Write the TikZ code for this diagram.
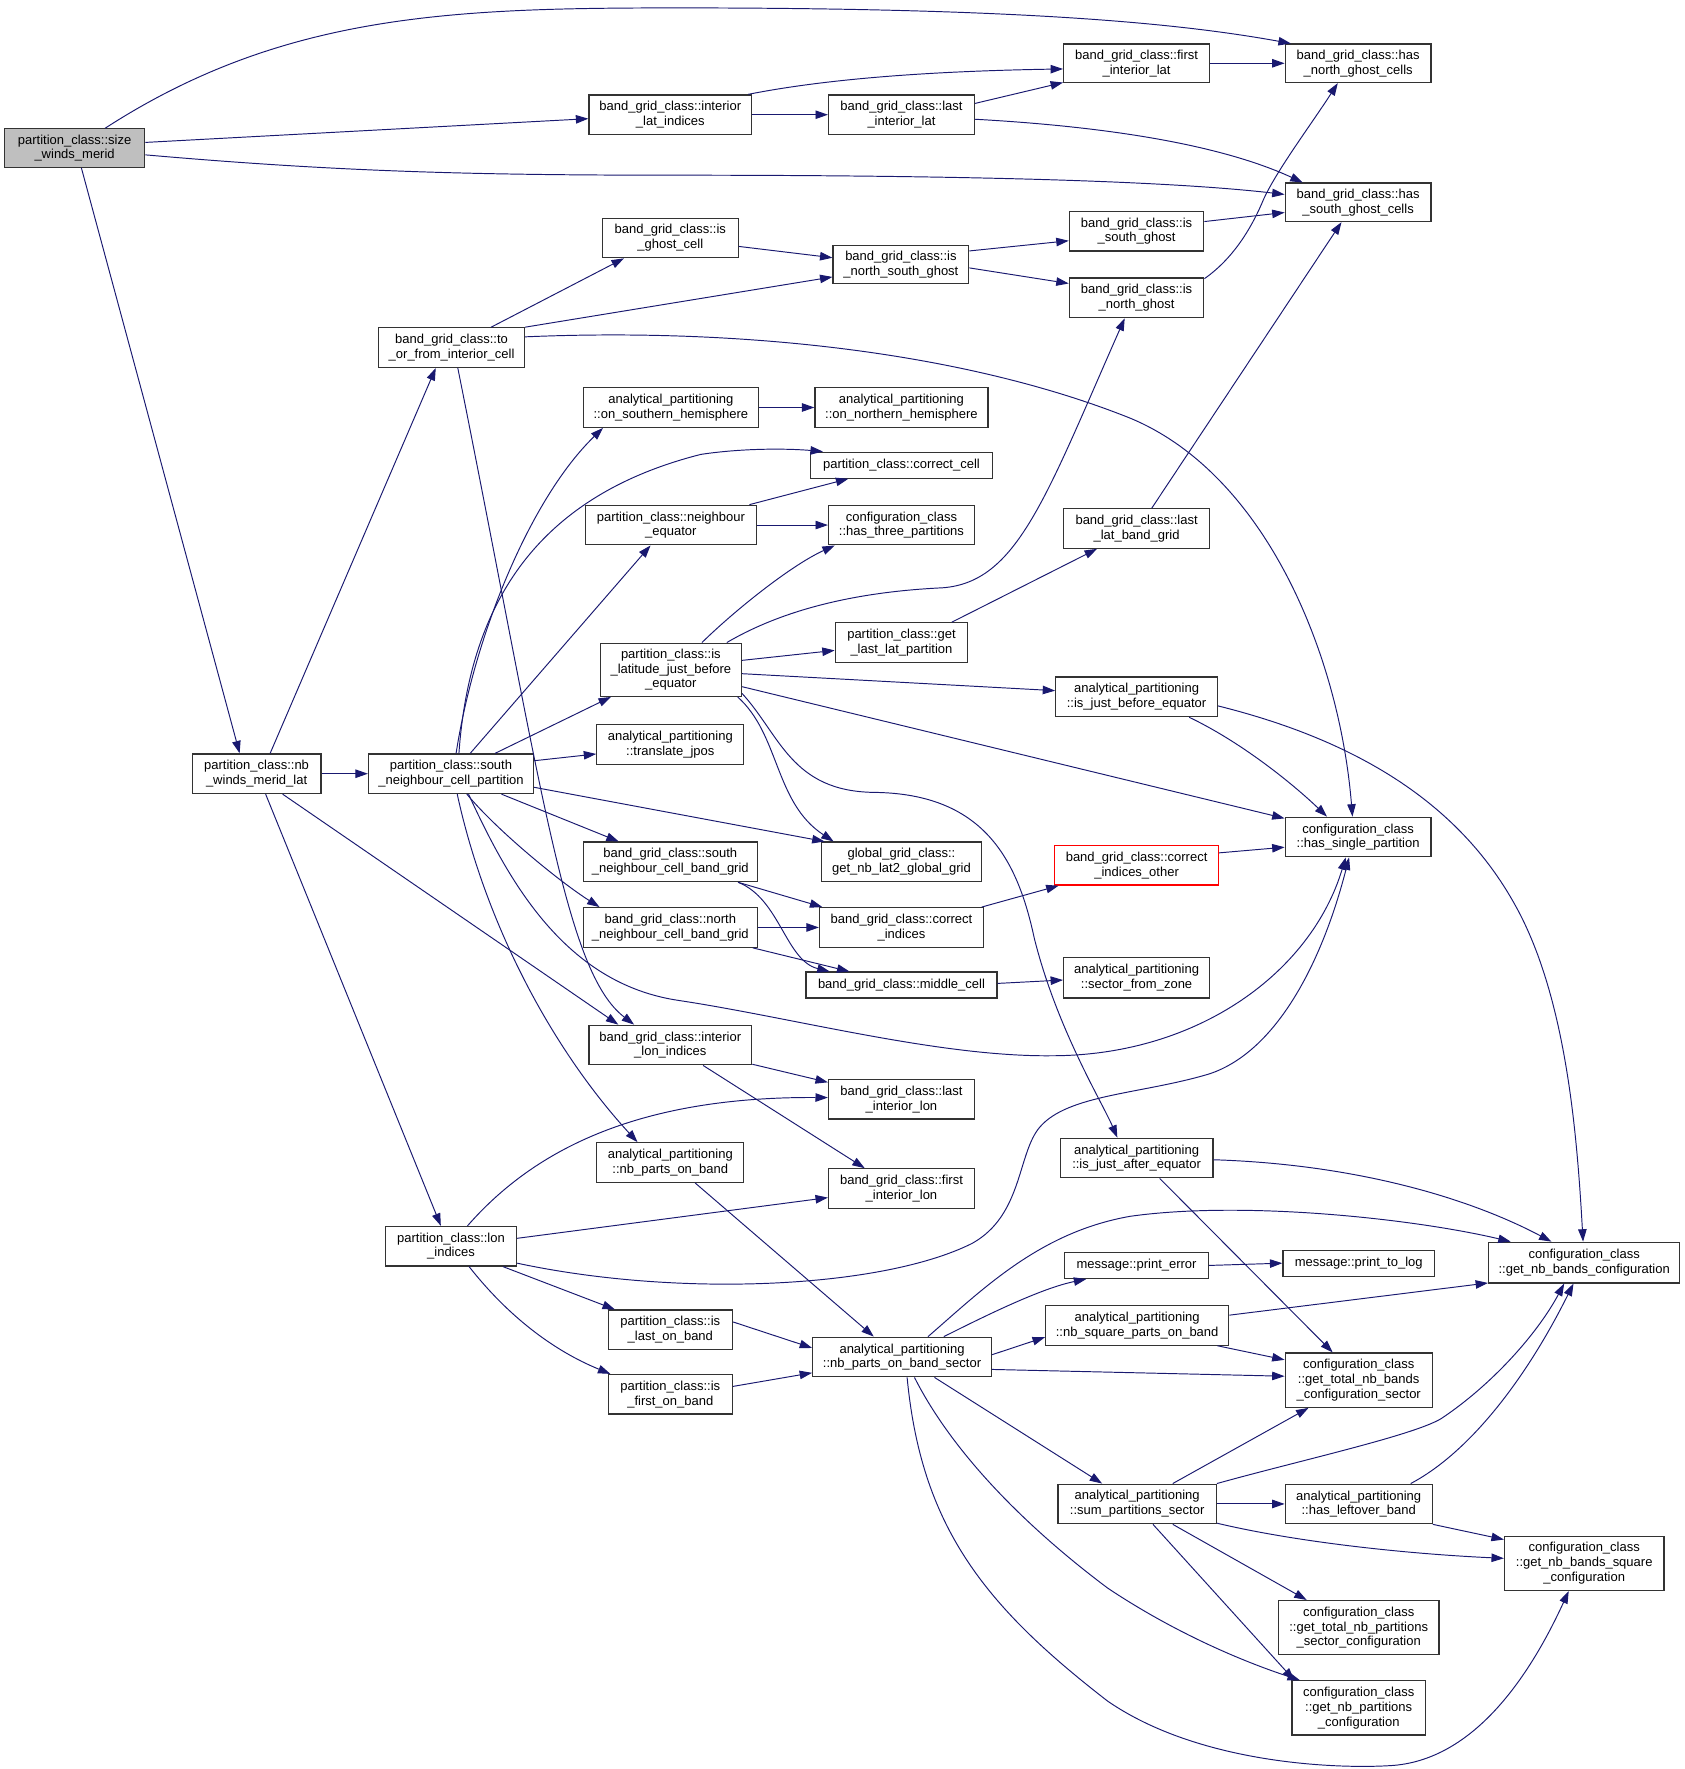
\documentclass[tikz,border=0pt]{standalone}
\usepackage{fontspec}
\setmainfont{Liberation Sans}
\usetikzlibrary{arrows.meta}
\definecolor{edgeblue}{RGB}{25,25,112}
\definecolor{rootgray}{RGB}{191,191,191}
\tikzset{
  fn/.style={draw=black!80, line width=1.1pt, fill=white, inner sep=1pt,
    align=center, minimum height=35pt, font=\fontsize{11.5}{13}\selectfont},
  call/.style={draw=edgeblue, line width=0.85pt, -{Triangle[length=11pt,width=7.5pt]}}
}
\begin{document}
\begin{tikzpicture}[x=1pt, y=-1pt]
  \useasboundingbox (0,0) rectangle (1490,1565);
  \fill[white] (0,0) rectangle (1490,1565);

  \node[fn, fill=rootgray, minimum width=124pt, minimum height=34pt] (size_winds_merid) at (66,131) {partition\_class::size\\\_winds\_merid};
  \node[fn, minimum width=144pt] (interior_lat_indices) at (593,101.5) {band\_grid\_class::interior\\\_lat\_indices};
  \node[fn, minimum width=129pt] (last_interior_lat) at (797.5,101.5) {band\_grid\_class::last\\\_interior\_lat};
  \node[fn, minimum width=129pt, minimum height=34pt] (first_interior_lat) at (1005.5,56) {band\_grid\_class::first\\\_interior\_lat};
  \node[fn, minimum width=129pt, minimum height=34pt] (has_north_ghost) at (1201.5,56) {band\_grid\_class::has\\\_north\_ghost\_cells};
  \node[fn, minimum width=129pt, minimum height=34pt] (has_south_ghost) at (1201.5,179) {band\_grid\_class::has\\\_south\_ghost\_cells};
  \node[fn, minimum width=120pt] (is_ghost_cell) at (593,210.5) {band\_grid\_class::is\\\_ghost\_cell};
  \node[fn, minimum width=120pt, minimum height=34pt] (is_north_south_ghost) at (797,234) {band\_grid\_class::is\\\_north\_south\_ghost};
  \node[fn, minimum width=119pt] (is_south_ghost) at (1005.5,204.5) {band\_grid\_class::is\\\_south\_ghost};
  \node[fn, minimum width=119pt] (is_north_ghost) at (1005.5,263.5) {band\_grid\_class::is\\\_north\_ghost};
  \node[fn, minimum width=129pt] (to_or_from) at (399.5,307.5) {band\_grid\_class::to\\\_or\_from\_interior\_cell};
  \node[fn, minimum width=155pt] (on_southern) at (593.5,360.5) {analytical\_partitioning\\::on\_southern\_hemisphere};
  \node[fn, minimum width=153pt] (on_northern) at (797.5,360.5) {analytical\_partitioning\\::on\_northern\_hemisphere};
  \node[fn, minimum width=161pt, minimum height=23pt] (correct_cell) at (797.5,411.5) {partition\_class::correct\_cell};
  \node[fn, minimum width=151pt] (neighbour_equator) at (593.5,464.5) {partition\_class::neighbour\\\_equator};
  \node[fn, minimum width=129pt] (has_three) at (797.5,464.5) {configuration\_class\\::has\_three\_partitions};
  \node[fn, minimum width=129pt] (last_lat_band) at (1005.5,467.5) {band\_grid\_class::last\\\_lat\_band\_grid};
  \node[fn, minimum width=125pt, minimum height=47pt] (is_latitude) at (593.5,592.5) {partition\_class::is\\\_latitude\_just\_before\\\_equator};
  \node[fn, minimum width=117pt] (get_last_lat) at (797.5,568.5) {partition\_class::get\\\_last\_lat\_partition};
  \node[fn, minimum width=143pt] (is_just_before) at (1005.5,616.5) {analytical\_partitioning\\::is\_just\_before\_equator};
  \node[fn, minimum width=130pt] (translate_jpos) at (593,658.5) {analytical\_partitioning\\::translate\_jpos};
  \node[fn, minimum width=114pt] (nb_winds) at (227,684.5) {partition\_class::nb\\\_winds\_merid\_lat};
  \node[fn, minimum width=146pt] (south_neighbour) at (399,684.5) {partition\_class::south\\\_neighbour\_cell\_partition};
  \node[fn, minimum width=129pt] (has_single) at (1201.5,740.5) {configuration\_class\\::has\_single\_partition};
  \node[fn, minimum width=154pt] (south_band_grid) at (593,762.5) {band\_grid\_class::south\\\_neighbour\_cell\_band\_grid};
  \node[fn, minimum width=141pt] (nb_lat2) at (797.5,762.5) {global\_grid\_class::\\get\_nb\_lat2\_global\_grid};
  \node[fn, draw=red, minimum width=145pt] (correct_other) at (1005.5,765.5) {band\_grid\_class::correct\\\_indices\_other};
  \node[fn, minimum width=154pt] (north_band_grid) at (593,820.5) {band\_grid\_class::north\\\_neighbour\_cell\_band\_grid};
  \node[fn, minimum width=145pt] (correct_indices) at (797.5,820.5) {band\_grid\_class::correct\\\_indices};
  \node[fn, minimum width=169pt, minimum height=23pt] (middle_cell) at (797.5,871.5) {band\_grid\_class::middle\_cell};
  \node[fn, minimum width=129pt, minimum height=36pt] (sector_zone) at (1005.5,865) {analytical\_partitioning\\::sector\_from\_zone};
  \node[fn, minimum width=144pt] (interior_lon) at (593,924.5) {band\_grid\_class::interior\\\_lon\_indices};
  \node[fn, minimum width=129pt] (last_interior_lon) at (797.5,972.5) {band\_grid\_class::last\\\_interior\_lon};
  \node[fn, minimum width=130pt] (nb_parts_band) at (593,1028.5) {analytical\_partitioning\\::nb\_parts\_on\_band};
  \node[fn, minimum width=129pt] (first_interior_lon) at (797.5,1051.5) {band\_grid\_class::first\\\_interior\_lon};
  \node[fn, minimum width=135pt] (is_just_after) at (1005.5,1024.5) {analytical\_partitioning\\::is\_just\_after\_equator};
  \node[fn, minimum width=116pt] (lon_indices) at (399,1102.5) {partition\_class::lon\\\_indices};
  \node[fn, minimum width=127pt, minimum height=23pt] (print_error) at (1005.5,1119.5) {message::print\_error};
  \node[fn, minimum width=134pt, minimum height=23pt] (print_to_log) at (1202,1117.5) {message::print\_to\_log};
  \node[fn, minimum width=169pt, minimum height=36pt] (nb_bands_conf) at (1401.5,1117) {configuration\_class\\::get\_nb\_bands\_configuration};
  \node[fn, minimum width=162pt] (nb_square) at (1006,1172.5) {analytical\_partitioning\\::nb\_square\_parts\_on\_band};
  \node[fn, minimum width=110pt] (is_last_band) at (593,1176.5) {partition\_class::is\\\_last\_on\_band};
  \node[fn, minimum width=158pt] (nb_parts_sector) at (798,1200.5) {analytical\_partitioning\\::nb\_parts\_on\_band\_sector};
  \node[fn, minimum width=130pt, minimum height=48pt] (total_nb_bands) at (1202,1221) {configuration\_class\\::get\_total\_nb\_bands\\\_configuration\_sector};
  \node[fn, minimum width=110pt] (is_first_band) at (593,1233.5) {partition\_class::is\\\_first\_on\_band};
  \node[fn, minimum width=140pt] (sum_partitions) at (1006,1330.5) {analytical\_partitioning\\::sum\_partitions\_sector};
  \node[fn, minimum width=130pt] (has_leftover) at (1202,1330.5) {analytical\_partitioning\\::has\_leftover\_band};
  \node[fn, minimum width=141pt, minimum height=48pt] (nb_bands_square) at (1401.5,1383) {configuration\_class\\::get\_nb\_bands\_square\\\_configuration};
  \node[fn, minimum width=142pt, minimum height=48pt] (total_nb_parts) at (1202,1440) {configuration\_class\\::get\_total\_nb\_partitions\\\_sector\_configuration};
  \node[fn, minimum width=118pt, minimum height=48pt] (nb_parts_conf) at (1202,1511) {configuration\_class\\::get\_nb\_partitions\\\_configuration};

  \draw[call] ([xshift=27pt]size_winds_merid.north) .. controls (250,12) and (400,7) .. (600,7) .. controls (900,7) and (1040,20) .. ([xshift=-59.5pt]has_north_ghost.north);
  \draw[call] ([yshift=5pt]size_winds_merid.east) -- ([yshift=-3.5pt]interior_lat_indices.west);
  \draw[call] ([yshift=-6pt]size_winds_merid.east) .. controls (300,152) and (420,155) .. (600,155) .. controls (900,155) and (1050,162) .. ([yshift=7pt]has_south_ghost.west);
  \draw[call] ([xshift=6pt]size_winds_merid.south) -- ([xshift=-15pt]nb_winds.north);

  \draw[call] ([xshift=69pt]interior_lat_indices.north) .. controls (730,70) and (820,63) .. ([yshift=-5pt]first_interior_lat.west);
  \draw[call] (interior_lat_indices.east) -- (last_interior_lat.west);
  \draw[call] ([yshift=10pt]last_interior_lat.east) -- ([yshift=-17pt]first_interior_lat.west);
  \draw[call] ([yshift=-4pt]last_interior_lat.east) .. controls (980,112) and (1080,128) .. ([xshift=-49pt]has_south_ghost.north);
  \draw[call] (first_interior_lat.east) -- (has_north_ghost.west);

  \draw[call] ([yshift=-7.5pt]is_ghost_cell.east) -- ([yshift=6pt]is_north_south_ghost.west);
  \draw[call] ([yshift=12pt]is_north_south_ghost.east) -- ([yshift=-8.5pt]is_south_ghost.west);
  \draw[call] ([yshift=-3pt]is_north_south_ghost.east) -- ([yshift=12.7pt]is_north_ghost.west);
  \draw[call] ([yshift=8.5pt]is_south_ghost.east) -- ([yshift=-9pt]has_south_ghost.west);
  \draw[call] ([yshift=17pt]is_north_ghost.east) .. controls (1092,228) and (1108,200) .. (1118,176) .. controls (1130,150) and (1160,110) .. ([xshift=-18pt]has_north_ghost.south);

  \draw[call] ([xshift=35pt]to_or_from.north) -- ([xshift=-41pt]is_ghost_cell.south);
  \draw[call] (to_or_from.north east) -- ([yshift=-11pt]is_north_south_ghost.west);
  \draw[call] ([yshift=9.5pt]to_or_from.east) .. controls (650,290) and (850,310) .. (1000,370) .. controls (1120,420) and (1185,580) .. ([xshift=-5pt]has_single.north);
  \draw[call] ([xshift=5.5pt]to_or_from.south) .. controls (480,700) and (500,860) .. ([xshift=-32pt]interior_lon.north);

  \draw[call] ([xshift=12pt]nb_winds.north) -- ([xshift=-14pt]to_or_from.south);
  \draw[call] (nb_winds.east) -- (south_neighbour.west);
  \draw[call] ([xshift=23pt]nb_winds.south) -- ([xshift=-46pt]interior_lon.north);
  \draw[call] ([xshift=8pt]nb_winds.south) -- ([xshift=-9pt]lon_indices.north);

  \draw[call] ([xshift=4.5pt]south_neighbour.north) .. controls (420,560) and (470,440) .. ([xshift=-60pt]on_southern.south);
  \draw[call] ([xshift=7pt]south_neighbour.north) .. controls (415,540) and (470,440) .. (620,402) .. controls (660,396) and (700,397) .. ([xshift=-69.5pt]correct_cell.north);
  \draw[call] ([xshift=17pt]south_neighbour.north) -- ([xshift=-18pt]neighbour_equator.south);
  \draw[call] ([xshift=39pt]south_neighbour.north) -- ([xshift=-53pt]is_latitude.south);
  \draw[call] ([yshift=11.5pt]south_neighbour.east) -- ([yshift=-8.5pt]translate_jpos.west);
  \draw[call] ([yshift=-12pt]south_neighbour.east) -- ([xshift=-68pt]nb_lat2.north);
  \draw[call] ([xshift=44.6pt]south_neighbour.south) -- ([xshift=-45.6pt]south_band_grid.north);
  \draw[call] ([xshift=14pt]south_neighbour.south) .. controls (440,735) and (495,780) .. ([xshift=-62.6pt]north_band_grid.north);
  \draw[call] ([xshift=15.5pt]south_neighbour.south) .. controls (450,780) and (500,870) .. (600,885) .. controls (700,900) and (830,935) .. (930,934) .. controls (1060,934) and (1160,860) .. ([xshift=-11pt]has_single.south);
  \draw[call] ([xshift=5.5pt]south_neighbour.south) .. controls (430,820) and (490,930) .. ([xshift=-29pt]nb_parts_band.north);

  \draw[call] (on_southern.east) -- (on_northern.west);
  \draw[call] ([xshift=69.5pt]neighbour_equator.north) -- ([xshift=-47pt]correct_cell.south);
  \draw[call] (neighbour_equator.east) -- (has_three.west);

  \draw[call] ([xshift=27.5pt]is_latitude.north) .. controls (650,540) and (700,500) .. ([xshift=-59pt]has_three.south);
  \draw[call] ([xshift=49.5pt]is_latitude.north) .. controls (700,535) and (770,523) .. (834,520) .. controls (900,515) and (925,440) .. ([xshift=-10.5pt]is_north_ghost.south);
  \draw[call] ([yshift=8.3pt]is_latitude.east) -- ([yshift=-6.9pt]get_last_lat.west);
  \draw[call] ([yshift=-3.5pt]is_latitude.east) -- ([yshift=5.5pt]is_just_before.west);
  \draw[call] ([yshift=-15pt]is_latitude.east) -- ([yshift=16.5pt]has_single.west);
  \draw[call] ([xshift=-4pt]is_latitude.south east) .. controls (690,650) and (685,710) .. ([xshift=-60pt]nb_lat2.north);
  \draw[call] ([yshift=3pt]is_latitude.south east) .. controls (690,650) and (700,700) .. (773,701) .. controls (870,702) and (900,760) .. (915,830) .. controls (935,910) and (975,975) .. ([xshift=-17pt]is_just_after.north);

  \draw[call] ([xshift=44.5pt]get_last_lat.north) -- ([xshift=-35pt]last_lat_band.south);
  \draw[call] ([xshift=13.5pt]last_lat_band.north) -- ([xshift=-14.7pt]has_south_ghost.south);
  \draw[call] ([xshift=46.5pt]is_just_before.south) .. controls (1095,655) and (1140,690) .. ([xshift=-27.5pt]has_single.north);
  \draw[call] ([yshift=-8pt]is_just_before.east) .. controls (1200,655) and (1290,710) .. (1340,800) .. controls (1385,880) and (1395,1000) .. ([xshift=-1pt]nb_bands_conf.north);

  \draw[call] ([xshift=60pt]south_band_grid.south) -- ([xshift=-70pt]correct_indices.north);
  \draw[call] ([xshift=60pt]south_band_grid.south) .. controls (690,795) and (695,850) .. ([xshift=-63.5pt]middle_cell.north);
  \draw[call] (north_band_grid.east) -- (correct_indices.west);
  \draw[call] ([xshift=73pt]north_band_grid.south) -- ([xshift=-46pt]middle_cell.north);
  \draw[call] ([xshift=71pt]correct_indices.north) -- ([xshift=-69pt]correct_other.south);
  \draw[call] ([yshift=1.5pt]middle_cell.east) -- ([yshift=-2pt]sector_zone.west);
  \draw[call] ([yshift=11pt]correct_other.east) -- ([yshift=-9pt]has_single.west);

  \draw[call] ([yshift=-17pt]interior_lon.east) -- ([yshift=15pt]last_interior_lon.west);
  \draw[call] ([xshift=29pt]interior_lon.south) -- ([xshift=-32.5pt]first_interior_lon.north);
  \draw[call] ([xshift=22pt]nb_parts_band.south) -- ([xshift=-25pt]nb_parts_sector.north);
  \draw[call] ([yshift=-1.5pt]is_just_after.east) .. controls (1200,1030) and (1300,1060) .. ([xshift=-29pt]nb_bands_conf.north);
  \draw[call] ([xshift=20.5pt]is_just_after.south) -- ([xshift=-23pt]total_nb_bands.north);

  \draw[call] ([xshift=14.6pt]lon_indices.north) .. controls (470,1020) and (560,970) .. ([yshift=1.5pt]last_interior_lon.west);
  \draw[call] ([yshift=7pt]lon_indices.east) -- ([yshift=-8pt]first_interior_lon.west);
  \draw[call] ([yshift=-15pt]lon_indices.east) .. controls (600,1148) and (780,1140) .. (860,1100) .. controls (905,1075) and (900,1020) .. (920,997) .. controls (945,968) and (1010,968) .. (1070,950) .. controls (1130,930) and (1170,850) .. ([xshift=-8pt]has_single.south);
  \draw[call] ([xshift=46pt]lon_indices.south) -- ([xshift=-49pt]is_last_band.north);
  \draw[call] ([xshift=16pt]lon_indices.south) .. controls (450,1165) and (490,1195) .. ([xshift=-53pt]is_first_band.north);
  \draw[call] ([yshift=7pt]is_last_band.east) -- ([yshift=8pt]nb_parts_sector.west);
  \draw[call] ([yshift=7pt]is_first_band.east) -- ([yshift=-14pt]nb_parts_sector.west);

  \draw[call] ([xshift=37pt]nb_parts_sector.north) .. controls (870,1165) and (920,1140) .. ([xshift=-44.5pt]print_error.south);
  \draw[call] ([yshift=2pt]nb_parts_sector.east) -- ([yshift=-10.5pt]nb_square.west);
  \draw[call] ([yshift=-11pt]nb_parts_sector.east) -- ([yshift=3.5pt]total_nb_bands.west);
  \draw[call] ([xshift=23pt]nb_parts_sector.north) .. controls (870,1140) and (920,1090) .. (1000,1076) .. controls (1100,1062) and (1250,1078) .. ([xshift=-65pt]nb_bands_conf.north);
  \draw[call] ([xshift=28.7pt]nb_parts_sector.south) -- ([xshift=-31pt]sum_partitions.north);
  \draw[call] ([xshift=11pt]nb_parts_sector.south) .. controls (840,1280) and (900,1345) .. (980,1405) .. controls (1040,1445) and (1100,1470) .. ([xshift=-52pt]nb_parts_conf.north);
  \draw[call] ([xshift=4.5pt]nb_parts_sector.south) .. controls (815,1350) and (870,1420) .. (980,1505) .. controls (1060,1560) and (1180,1565) .. (1230,1562) .. controls (1300,1558) and (1350,1490) .. ([xshift=-13.7pt]nb_bands_square.south);

  \draw[call] (print_error.east) -- (print_to_log.west);
  \draw[call] ([yshift=9pt]nb_square.east) -- ([yshift=-18pt]nb_bands_conf.west);
  \draw[call] ([xshift=71pt]nb_square.south) -- ([yshift=18pt]total_nb_bands.west);

  \draw[call] ([xshift=31.5pt]sum_partitions.north) -- ([xshift=-44.4pt]total_nb_bands.south);
  \draw[call] (sum_partitions.north east) .. controls (1150,1292) and (1250,1270) .. (1275,1255) .. controls (1320,1225) and (1360,1180) .. ([xshift=-17.7pt]nb_bands_conf.south);
  \draw[call] (sum_partitions.east) -- (has_leftover.west);
  \draw[call] ([yshift=-17pt]sum_partitions.east) .. controls (1150,1365) and (1250,1375) .. ([yshift=4.4pt]nb_bands_square.west);
  \draw[call] ([xshift=31.5pt]sum_partitions.south) -- ([xshift=-46pt]total_nb_parts.north);
  \draw[call] ([xshift=14pt]sum_partitions.south) -- ([xshift=-57pt]nb_parts_conf.north);
  \draw[call] ([xshift=46pt]has_leftover.north) .. controls (1300,1285) and (1350,1220) .. ([xshift=-9.5pt]nb_bands_conf.south);
  \draw[call] (has_leftover.south east) -- ([yshift=21pt]nb_bands_square.west);
\end{tikzpicture}
\end{document}
